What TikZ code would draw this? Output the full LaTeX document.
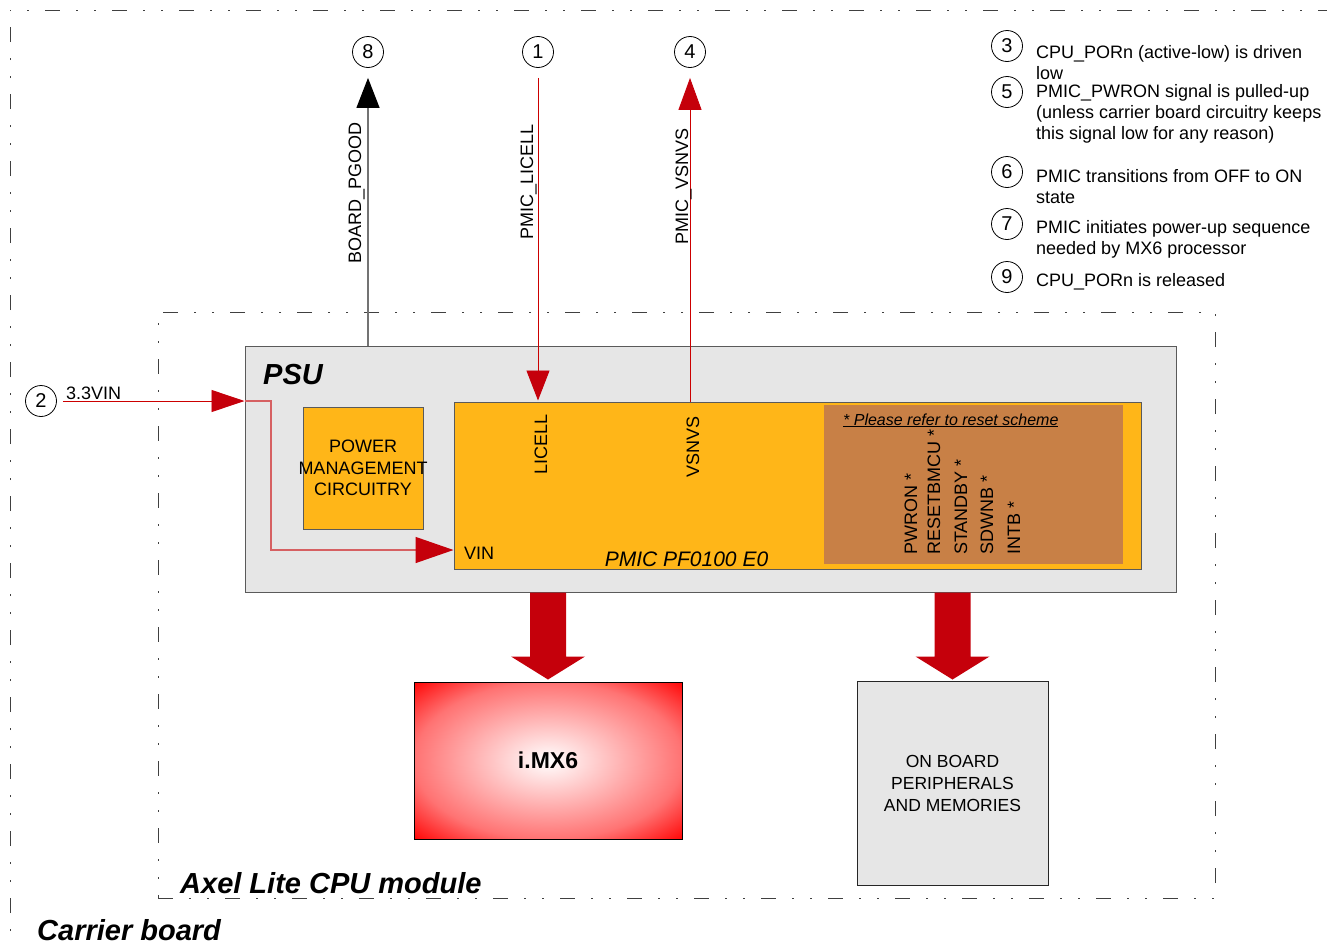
\documentclass[tikz,border=0pt]{standalone}
\usepackage{fontspec}
\setmainfont{Liberation Sans}
\usetikzlibrary{arrows.meta,calc}
\definecolor{sigred}{RGB}{204,0,0}
\definecolor{lightred}{RGB}{214,96,98}
\definecolor{tipred}{RGB}{197,0,11}
\definecolor{psugray}{RGB}{230,230,230}
\definecolor{boxorange}{RGB}{255,182,24}
\definecolor{boxbrown}{RGB}{200,128,70}
\definecolor{edgegray}{RGB}{90,90,90}
\pgfdeclareradialshading{imxshade}{\pgfpointorigin}{color(0bp)=(white); color(25bp)=(red!55!white); color(36bp)=(red); color(50bp)=(red)}
\tikzset{
  num/.style={circle,draw=black,line width=0.8pt,inner sep=0pt,minimum size=31pt,font=\fontsize{20}{22}\selectfont},
  txt/.style={inner sep=0pt,font=\fontsize{18}{20.5}\selectfont},
  legend/.style={inner sep=0pt,anchor=north west,align=left,font=\fontsize{18}{20.8}\selectfont},
  vlabel/.style={inner sep=0pt,rotate=90,anchor=base west,font=\fontsize{18}{20}\selectfont},
  blk/.style={draw=edgegray,line width=1pt,inner sep=0pt},
  frame/.style={draw=black!75,line width=1pt,dash pattern=on 15pt off 16pt on 2pt off 16pt on 2pt off 16pt},
  title/.style={inner sep=0pt,anchor=base west,font=\fontsize{29}{32}\selectfont\bfseries\itshape},
}
\newcommand{\fatarrow}[2]{%
  \fill[tipred] ($(#1)+(-18,0)$) -- ($(#2)+(-18,-23)$) -- ($(#2)+(-37,-23)$) -- (#2)
    -- ($(#2)+(37,-23)$) -- ($(#2)+(18,-23)$) -- ($(#1)+(18,0)$) -- cycle;}
\begin{document}
\begin{tikzpicture}[x=1pt,y=-1pt]
\useasboundingbox (0,0) rectangle (1327,945);
% carrier board frame (only left and top edges inside the page)
\draw[frame] (10,980) -- (10,10) -- (1360,10);
% Axel module frame
\node[frame,inner sep=0pt,minimum width=1057pt,minimum height=586pt] (axel) at (686.5,605) {};
\node[title] (axeltitle) at (180,893) {Axel Lite CPU module};
\node[title] (carrier) at (37,940) {Carrier board};

% PSU
\node[blk,fill=psugray,minimum width=931pt,minimum height=246pt] (psu) at (710.5,469) {};
\node[title] (psutitle) at (263,384) {PSU};
\node[blk,fill=boxorange,minimum width=120pt,minimum height=122pt] (pmc) at (363,468) {};
\node[txt,align=center,font=\fontsize{18}{21.7}\selectfont] (pmctext) at (363,468) {POWER\\MANAGEMENT\\CIRCUITRY};
\node[blk,fill=boxorange,minimum width=687pt,minimum height=167pt] (pmic) at (797.5,485.5) {};
\node[inner sep=0pt,fill=boxbrown,minimum width=299pt,minimum height=159pt] (reset) at (973.5,484.5) {};
\node[inner sep=0pt,anchor=base west,font=\fontsize{16}{18}\selectfont\itshape] (note) at (843,425) {\underline{* Please refer to reset scheme}};
\node[vlabel] (pwron) at (917,555) {PWRON *};
\node[vlabel] (resetb) at (940,555) {RESETBMCU *};
\node[vlabel] (stby) at (967,555) {STANDBY *};
\node[vlabel] (sdwnb) at (993,555) {SDWNB *};
\node[vlabel] (intb) at (1020,555) {INTB *};
\node[vlabel] (licell) at (547,475) {LICELL};
\node[vlabel] (vsnvs) at (699,478) {VSNVS};
\node[txt,anchor=base west] (vin) at (464,559) {VIN};
\node[inner sep=0pt,anchor=base,font=\fontsize{21}{24}\selectfont\itshape] (pmicname) at (686.5,566) {PMIC PF0100 E0};

% i.MX6 and peripherals
\node[draw=black,line width=1pt,shading=imxshade,inner sep=0pt,minimum width=268pt,minimum height=157pt,font=\fontsize{23}{26}\selectfont\bfseries] (imx) at (548,760.5) {i.MX6};
\node[draw=black!85,line width=1pt,fill=psugray,inner sep=0pt,minimum width=191pt,minimum height=204pt,align=center,font=\fontsize{17.5}{22}\selectfont] (obp) at (952.5,783) {ON BOARD\\PERIPHERALS\\AND MEMORIES};
\coordinate (a1s) at (psu.south -| imx.north);
\coordinate (a1e) at ($(imx.north)+(0,-2)$);
\coordinate (a2s) at (psu.south -| obp.north);
\coordinate (a2e) at ($(obp.north)+(0,-1)$);
\fatarrow{a1s}{a1e}
\fatarrow{a2s}{a2e}

% numbered circles at top
\node[num] (c8) at (368,52) {8};
\node[num] (c1) at (538,52) {1};
\node[num] (c4) at (690,52) {4};
\node[num] (c2) at (41,401) {2};

% top signals
\draw[black!55,line width=1.2pt,-{Triangle[length=30pt,width=23pt,color=black,fill=black]},shorten >=10pt] (psu.north -| c8) -- (c8.south);
\node[vlabel] (pgood) at (361,264) {BOARD\_PGOOD};
\draw[sigred,line width=0.9pt,-{Triangle[length=30pt,width=23pt,color=tipred,fill=tipred]},shorten <=10pt,shorten >=1pt] (c1.south) -- (pmic.north -| c1);
\node[vlabel] (plicell) at (533,240) {PMIC\_LICELL};
\draw[sigred,line width=0.9pt,-{Triangle[length=32pt,width=23pt,color=tipred,fill=tipred]},shorten >=10pt] (pmic.north -| c4) -- (c4.south);
\node[vlabel] (pvsnvs) at (688,245) {PMIC\_VSNVS};

% 3.3VIN supply
\coordinate (vinstart) at ($(c2.east)+(6,0)$);
\coordinate (psuin) at (c2.east -| psu.west);
\coordinate (bend) at (271,401);
\coordinate (pmicin) at (pmic.west |- 0,550);
\draw[sigred,line width=0.9pt,-{Triangle[length=33pt,width=22pt,color=tipred,fill=tipred]}] (vinstart) -- (psuin);
\draw[lightred,line width=1.4pt,-{Triangle[length=38pt,width=26pt,color=tipred,fill=tipred]}] (psuin) -- (bend) |- (pmicin);
\node[txt,anchor=base west] (v33) at (66,399) {3.3VIN};

% legend
\node[num] (l3) at (1007,46) {3};
\node[legend] (t3) at (1036,45) {CPU\_PORn (active-low) is driven\\low};
\node[num] (l5) at (1007,92) {5};
\node[legend] (t5) at (1036,84.5) {PMIC\_PWRON signal is pulled-up\\(unless carrier board circuitry keeps\\this signal low for any reason)};
\node[num] (l6) at (1007,172) {6};
\node[legend] (t6) at (1036,169) {PMIC transitions from OFF to ON\\state};
\node[num] (l7) at (1007,224) {7};
\node[legend] (t7) at (1036,220) {PMIC initiates power-up sequence\\needed by MX6 processor};
\node[num] (l9) at (1007,277) {9};
\node[legend] (t9) at (1036,273) {CPU\_PORn is released};
\end{tikzpicture}
\end{document}
